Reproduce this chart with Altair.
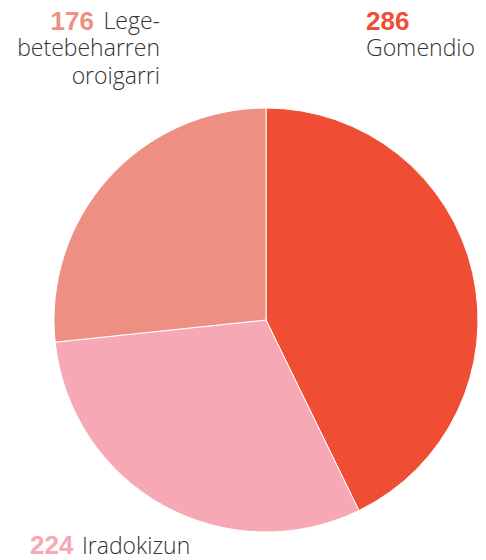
import altair as alt
import pandas as pd

categories = ["Gomendio", "Iradokizun", "Lege-betebeharren oroigarri"]
values = [286, 224, 176]
# slice sizes as drawn in the reference (degrees of the circle)
slice_degrees = [154, 110, 96]
colors = ["#f04d35", "#f7a8b5", "#ed8f82"]

df = pd.DataFrame({"cat": categories, "val": slice_degrees, "idx": [0, 1, 2]})

W, H = 470, 552
cx, cy, R = 258, 312, 212

pie = alt.Chart(df).mark_arc(outerRadius=R, stroke="white", strokeWidth=1).encode(
    theta=alt.Theta("val:Q", stack=True),
    order=alt.Order("idx:O"),
    color=alt.Color("cat:N", scale=alt.Scale(domain=categories, range=colors), legend=None),
    x=alt.value(cx), y=alt.value(cy),
)

def txt(s, x, y, color, align="left", bold=False, size=23):
    return alt.Chart(pd.DataFrame({"t": [s]})).mark_text(
        align=align, baseline="alphabetic", fontSize=26 if bold else size,
        font="Liberation Sans" if bold else "Open Sans",
        fontWeight="bold" if bold else 300, color=color,
    ).encode(text="t:N", x=alt.value(x), y=alt.value(y))

grey = "#333333"
layers = [
    pie,
    txt(str(values[0]), 358, 22, colors[0], bold=True),
    txt(categories[0], 358, 48, grey),
    txt(str(values[2]), 86, 22, colors[2], align="right", bold=True),
    txt("Lege-", 152, 21, grey, align="right"),
    txt("betebeharren", 152, 48, grey, align="right"),
    txt("oroigarri", 152, 76, grey, align="right"),
    txt(str(values[1]), 22, 546, colors[1], bold=True),
    txt(categories[1], 74, 546, grey),
]

chart = alt.layer(*layers).properties(
    width=W, height=H, autosize=alt.AutoSizeParams(type="none"), padding=0
).configure_view(stroke=None)

chart.save("out.html", embed_options={"renderer": "svg", "actions": False})
